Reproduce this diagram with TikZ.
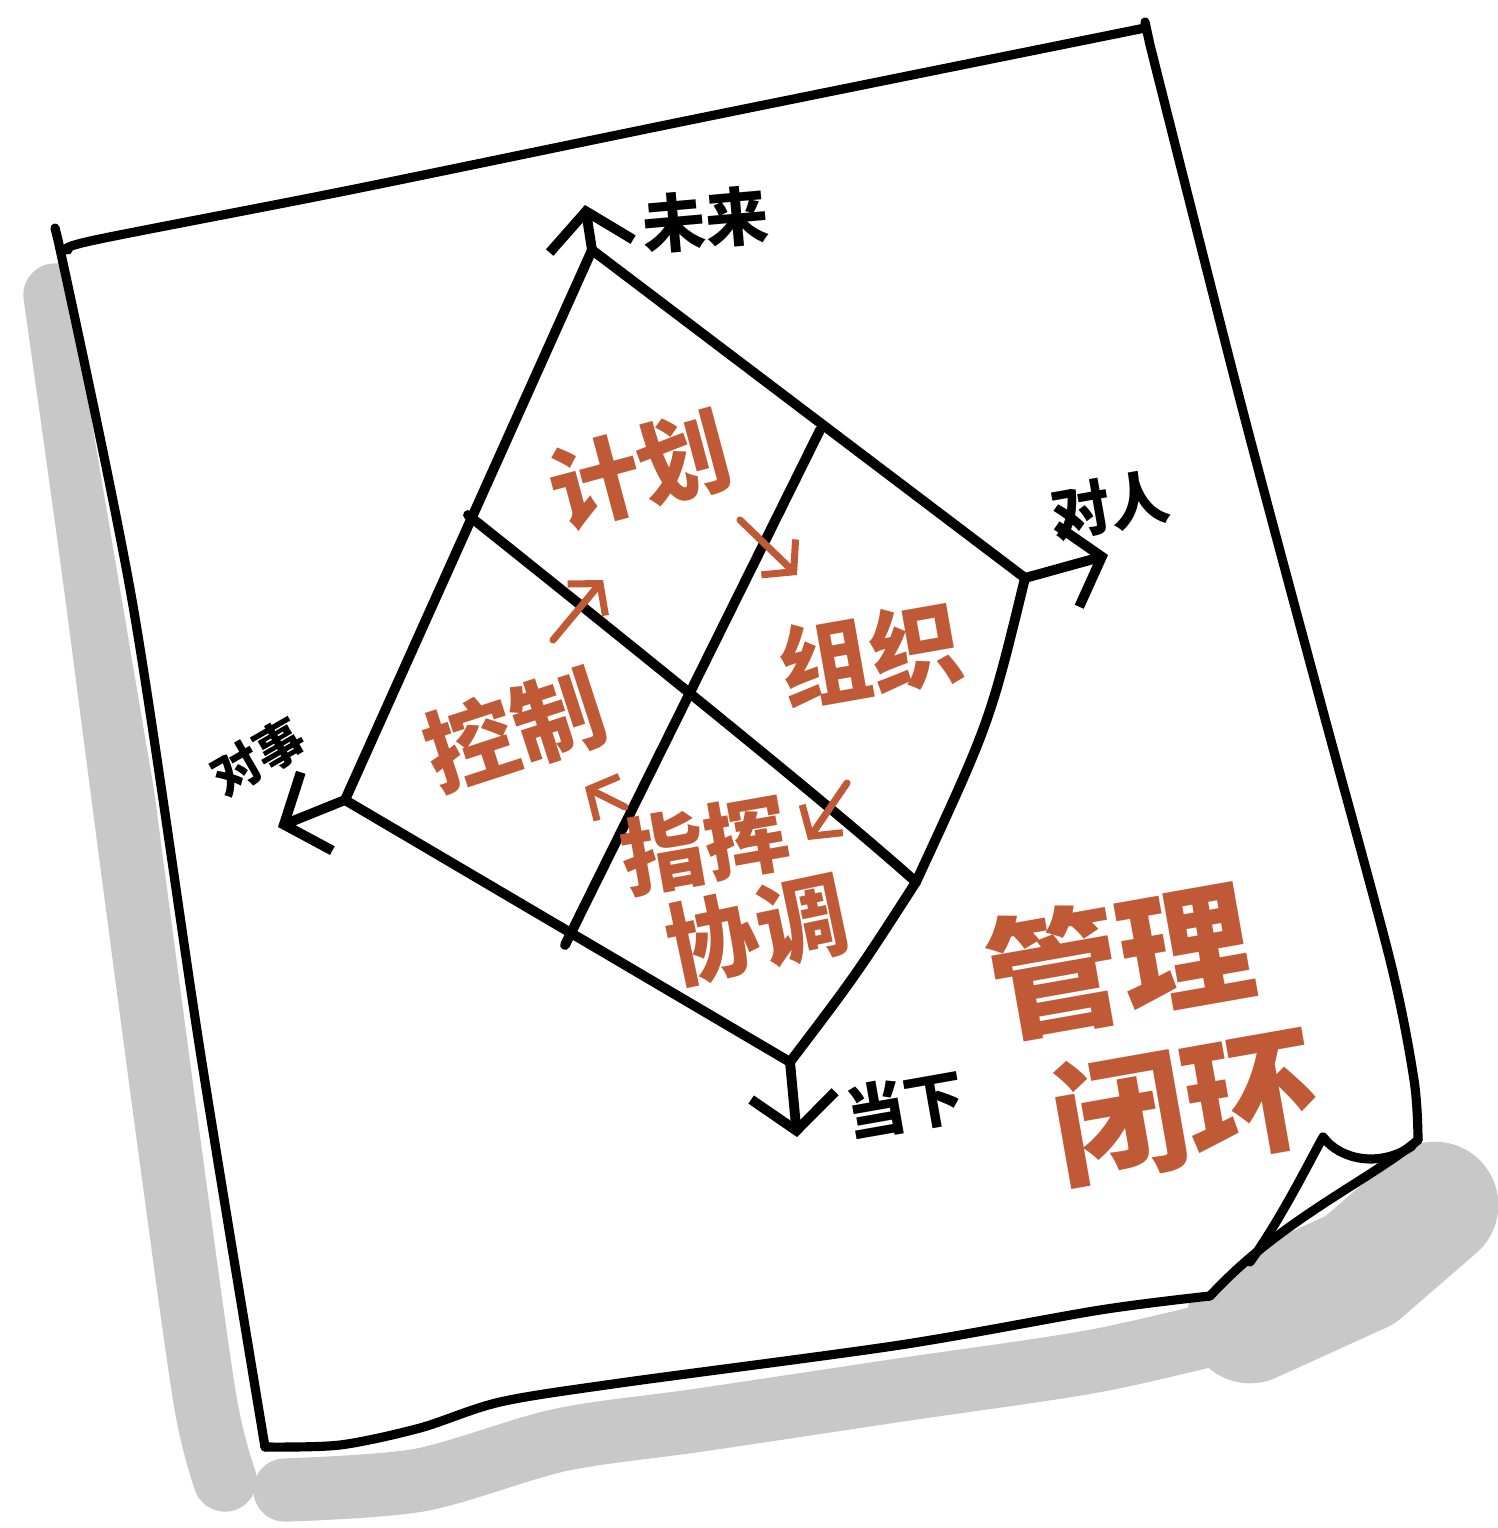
\documentclass[tikz,border=0pt]{standalone}
\usepackage{fontspec}
\newfontfamily\cjk{Noto Sans CJK SC}
\usetikzlibrary{arrows.meta}
\definecolor{pen}{HTML}{C05A36}
\definecolor{shadowgrey}{HTML}{C8C8C8}

\begin{document}
\begin{tikzpicture}[x=0.01cm, y=-0.01cm, line cap=round, line join=round,
    paper/.style={line width=2.6pt},
    grid line/.style={line width=2.8pt},
    shadow/.style={draw=shadowgrey, line width=18pt},
    axis/.style={line width=2.8pt, -{Straight Barb[length=10pt,width=24pt]}},
    flow/.style={pen, line width=2pt, -{Straight Barb[length=6pt,width=14pt]}},
    axis label/.style={font=\cjk\bfseries\fontsize{18}{18}\selectfont},
    part label/.style={text=pen, font=\cjk\bfseries\fontsize{26}{26}\selectfont, inner sep=0pt},
    big label/.style={text=pen, font=\cjk\bfseries\fontsize{38}{38}\selectfont, inner sep=0pt}]
    \useasboundingbox (0,0) rectangle (1498,1528);

    % shadow under the sheet
    \path[shadow] plot[smooth] coordinates {(55,295) (92,560) (130,850) (170,1150) (205,1400) (225,1480)};
    \path[shadow] plot[smooth] coordinates {(285,1490) (420,1480) (560,1440) (700,1420) (900,1390) (1100,1360) (1270,1320)};
    \path[draw=shadowgrey, line width=36pt] (1250,1320) -- (1360,1270) -- (1435,1205);
    \fill[shadowgrey] (1440,1200) circle (48);

    % the sheet
    \fill[white] plot[smooth] coordinates {(62,245) (600,135) (1145,28)} -- (1418,1125) -- (1210,1295) -- (265,1447) -- cycle;
    \draw[paper] plot[smooth] coordinates {(68,250) (95,240) (350,190) (700,118) (1145,28)};
    \draw[paper] (55,228) -- (58,240) plot[smooth] coordinates {(58,240) (132,600) (200,1050) (265,1447)};
    \draw[paper] (1145,22) -- (1150,45) plot[smooth] coordinates {(1150,45) (1240,400) (1320,700) (1390,960) (1414,1080) (1418,1140)};
    \draw[paper] plot[smooth] coordinates {(265,1447) (340,1445) (420,1428) (500,1402) (620,1383) (900,1345) (1100,1310) (1210,1296)};
    \draw[paper] (1418,1140) .. controls (1370,1180) and (1280,1220) .. (1210,1296);
    \draw[paper] (1250,1262) .. controls (1280,1220) and (1305,1170) .. (1323,1137)
        .. controls (1340,1160) and (1380,1168) .. (1412,1146);

    % grid corners
    \coordinate (top) at (592,250);
    \coordinate (right) at (1025,578);
    \coordinate (bottom) at (790,1062);
    \coordinate (left) at (345,800);
    \coordinate (midleft) at (468,515);
    \coordinate (midright) at (916,882);
    \coordinate (midtop) at (820,430);
    \coordinate (midbottom) at (565,945);

    \path[grid line] (top) edge (right);
    \path[grid line] (top) edge (left);
    \draw[grid line] (right) .. controls (990,722) .. (midright);
    \draw[grid line] (midright) .. controls (856,975) .. (bottom);
    \path[grid line] (left) edge (bottom);
    \draw[grid line] (midleft) .. controls (800,780) and (880,850) .. (midright);
    \path[grid line] (midtop) edge (midbottom);

    % axes
    \coordinate (future) at (585,205);
    \coordinate (people) at (1108,555);
    \coordinate (now) at (797,1137);
    \coordinate (things) at (278,827);

    \path[axis] (top) edge (future);
    \path[axis] (right) edge (people);
    \path[axis] (bottom) edge (now);
    \path[axis] (left) edge (things);

    \node[axis label, rotate=5] at (705,220) (futurelabel) {未来};
    \node[axis label, rotate=10, font=\cjk\bfseries\fontsize{17}{17}\selectfont] at (1110,505) (peoplelabel) {对人};
    \node[axis label, rotate=30, font=\cjk\bfseries\fontsize{14}{14}\selectfont] at (258,757) (thingslabel) {对事};
    \node[axis label, rotate=10, font=\cjk\bfseries\fontsize{17}{17}\selectfont] at (905,1105) (nowlabel) {当下};

    % the four steps
    \node[part label, rotate=15] at (640,470) (plan) {计划};
    \node[part label, rotate=10] at (870,655) (organise) {组织};
    \node[part label, rotate=18] at (515,730) (control) {控制};
    \node[part label, rotate=10, font=\cjk\bfseries\fontsize{24}{24}\selectfont] at (705,845) (command) {指挥};
    \node[part label, rotate=12] at (757,930) (coordinate) {协调};

    \coordinate (a1) at (740,520);
    \coordinate (b1) at (797,575);
    \coordinate (a2) at (553,640);
    \coordinate (b2) at (603,580);
    \coordinate (a3) at (625,807);
    \coordinate (b3) at (585,787);
    \coordinate (a4) at (847,783);
    \coordinate (b4) at (808,840);

    \path[flow] (a1) edge (b1);
    \path[flow] (a2) edge (b2);
    \path[flow] (a3) edge (b3);
    \path[flow] (a4) edge (b4);

    \node[big label, rotate=10] at (1120,960) (manage) {管理};
    \node[big label, rotate=10] at (1185,1105) (loop) {闭环};
\end{tikzpicture}
\end{document}
